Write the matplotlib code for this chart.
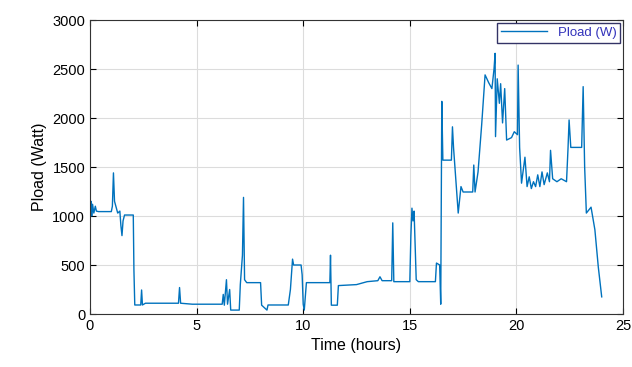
import matplotlib.pyplot as plt

plt.rcParams['font.family'] = ['Liberation Sans', 'DejaVu Sans']

# time (hours) and load (W)
t = [0.0, 0.05, 0.08, 0.12, 0.18, 0.25, 0.3, 0.4, 1.0, 1.05, 1.1, 1.15, 1.3, 1.4, 1.45,
     1.5, 1.55, 1.62, 2.03, 2.06, 2.1, 2.38, 2.42, 2.46, 2.6, 4.15, 4.2, 4.25, 4.8, 6.2,
     6.25, 6.3, 6.4, 6.45, 6.55, 6.6, 7.0, 7.05, 7.15, 7.2, 7.25, 7.35, 8.0, 8.05, 8.3,
     8.35, 9.3, 9.4, 9.5, 9.55, 9.9, 9.95, 10.0, 10.05, 10.15, 11.25, 11.28, 11.32,
     11.6, 11.65, 12.5, 13.0, 13.5, 13.6, 13.7, 14.15, 14.2, 14.25, 15.0, 15.05, 15.1,
     15.15, 15.2, 15.3, 15.4, 16.2, 16.25, 16.4, 16.45, 16.5, 16.55, 16.95, 17.0, 17.05,
     17.15, 17.27, 17.4, 17.5, 17.95, 18.0, 18.06, 18.2, 18.37, 18.53, 18.7, 18.85,
     18.95, 19.0, 19.02, 19.1, 19.2, 19.26, 19.35, 19.45, 19.54, 19.77, 19.9, 20.05,
     20.08, 20.15, 20.24, 20.4, 20.5, 20.6, 20.7, 20.8, 20.9, 21.0, 21.1, 21.2, 21.3,
     21.45, 21.55, 21.6, 21.7, 21.9, 22.1, 22.35, 22.42, 22.47, 22.55, 23.06, 23.13,
     23.2, 23.28, 23.5, 23.68, 23.84, 24.0]
pload = [1080, 1150, 1000, 1120, 1030, 1100, 1050, 1045, 1045, 1100, 1440, 1150, 1030,
         1050, 900, 800, 950, 1010, 1010, 450, 92, 92, 245, 92, 110, 110, 270, 110, 100,
         100, 200, 90, 350, 100, 250, 40, 40, 300, 600, 1190, 350, 320, 320, 90, 40, 92,
         92, 250, 560, 500, 500, 400, 100, 40, 320, 320, 600, 90, 90, 290, 300, 330, 340,
         380, 340, 340, 930, 330, 330, 800, 1080, 950, 1050, 350, 330, 330, 520, 500,
         100, 2170, 1570, 1570, 1910, 1700, 1400, 1030, 1300, 1245, 1245, 1520, 1245,
         1450, 1930, 2440, 2360, 2300, 2500, 2660, 1810, 2400, 2150, 2350, 1950, 2300,
         1775, 1800, 1860, 1830, 2540, 1700, 1335, 1600, 1300, 1400, 1280, 1350, 1300,
         1420, 1300, 1450, 1320, 1440, 1350, 1670, 1380, 1350, 1380, 1350, 1690, 1980,
         1700, 1700, 2320, 1500, 1030, 1090, 860, 480, 175]

fig = plt.figure(figsize=(6.32, 3.67), dpi=100)
ax = fig.add_axes([0.1424, 0.1444, 0.8434, 0.8011])
ax.plot(t, pload, color='#0072BD', linewidth=1.0, label='Pload (W)')

ax.set_xlim(0, 25)
ax.set_ylim(0, 3000)
ax.set_xticks([0, 5, 10, 15, 20, 25])
ax.set_yticks([0, 500, 1000, 1500, 2000, 2500, 3000])
ax.grid(True, color='#dcdcdc', linewidth=0.8)
ax.tick_params(direction='in', top=True, right=True, labelsize=10.5, length=4)
for s in ax.spines.values():
    s.set_color('#333333')
ax.set_xlabel('Time (hours)', fontsize=11.5)
ax.set_ylabel('Pload (Watt)', fontsize=11.5)

leg = ax.legend(loc='upper right', fontsize=9.5, fancybox=False, framealpha=1,
                borderpad=0.3, handlelength=3.5, borderaxespad=0.2)
leg.get_frame().set_edgecolor('#333366')
for txt in leg.get_texts():
    txt.set_color('#3333bb')

fig.savefig('out.png', dpi=100)
